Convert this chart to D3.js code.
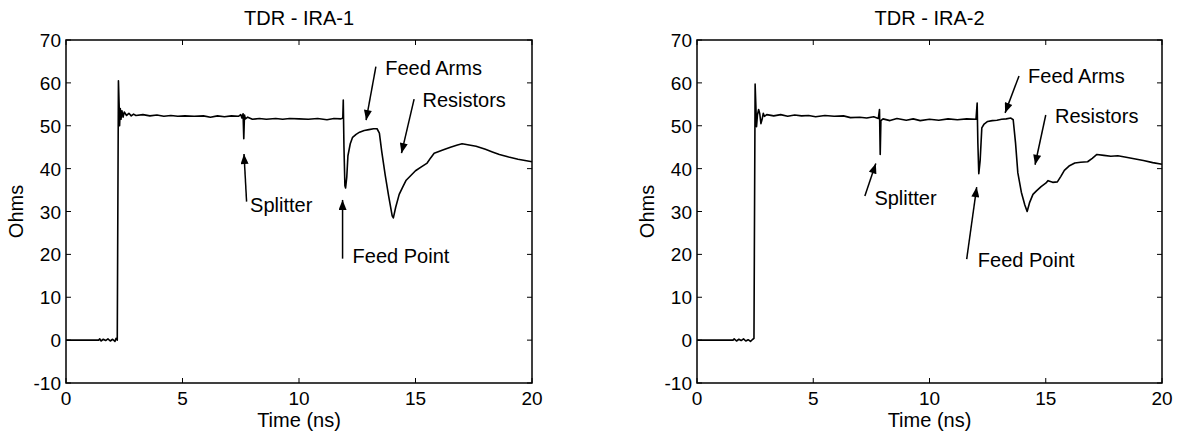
<!DOCTYPE html>
<html>
<head>
<meta charset="utf-8">
<script src="https://cdn.jsdelivr.net/npm/d3@7"></script>
<style>
  body { margin: 0; background: #fff; }
  svg text { font-family: "Liberation Sans", Arial, sans-serif; font-size: 20px; fill: #000; }
  svg text.tick { font-size: 19px; }
</style>
</head>
<body>
<div id="chart"></div>
<script>
// TDR traces: time (ns), impedance (ohms)
var ira1Time = [0, 1.4, 1.45, 1.5, 1.6, 1.7, 1.8, 1.9, 2.0, 2.1, 2.15, 2.2, 2.25, 2.28, 2.3, 2.33, 2.36, 2.4, 2.45, 2.5,
  2.6, 2.7, 2.8, 2.9, 3.0, 3.3, 3.6, 3.9, 4.2, 4.5, 4.8, 5.1, 5.5, 5.9, 6.2, 6.5, 6.8, 7.1, 7.4, 7.5,
  7.55, 7.6, 7.63, 7.66, 7.7, 7.8, 8.0, 8.3, 8.6, 9.0, 9.3, 9.6, 10.0, 10.4, 10.8, 11.2, 11.5, 11.8, 11.88, 11.9,
  11.93, 11.97, 12.0, 12.05, 12.1, 12.2, 12.3, 12.45, 12.6, 12.8, 13.0, 13.2, 13.35, 13.45, 13.55, 13.7, 13.85, 14.0, 14.05, 14.15,
  14.3, 14.45, 14.6, 14.8, 15.0, 15.25, 15.5, 15.65, 15.8, 16.0, 16.2, 16.5, 16.8, 17.0, 17.3, 17.6, 18.0, 18.3, 18.6, 19.0,
  19.4, 19.7, 20.0];
var ira1Ohms = [0, 0, 0.3, -0.2, 0.2, -0.1, 0.3, -0.2, 0.2, -0.3, 0.4, 0, 60.5, 55, 50, 54, 51.5, 53.5, 52, 53.2,
  52.4, 52.9, 52.3, 52.7, 52.4, 52.6, 52.3, 52.5, 52.2, 52.4, 52.2, 52.3, 52.2, 52.3, 52.0, 52.3, 52.1, 52.3, 52.2, 52.6,
  51.8, 52.8, 47, 52.5, 51.6, 52.0, 51.5, 51.7, 51.5, 51.7, 51.5, 51.7, 51.6, 51.5, 51.7, 51.4, 51.7, 51.6, 51.8, 56,
  45, 36, 35.5, 38, 43, 45.8, 47.3, 48.0, 48.5, 48.9, 49.1, 49.3, 49.3, 48.3, 44, 38.5, 33.5, 29, 28.5, 31,
  34, 35.7, 37.3, 38.4, 39.5, 40.4, 41.3, 42.5, 43.6, 44.0, 44.4, 45.0, 45.5, 45.8, 45.5, 45.2, 44.5, 43.9, 43.3, 42.7,
  42.2, 41.9, 41.6];

var ira2Time = [0, 1.55, 1.6, 1.7, 1.8, 1.9, 2.0, 2.1, 2.2, 2.3, 2.4, 2.45, 2.5, 2.53, 2.56, 2.6, 2.65, 2.7, 2.75, 2.8,
  2.85, 2.9, 3.0, 3.3, 3.6, 3.9, 4.2, 4.5, 4.8, 5.1, 5.5, 5.9, 6.3, 6.6, 7.0, 7.3, 7.6, 7.8, 7.85, 7.88,
  7.91, 8.0, 8.3, 8.6, 9.0, 9.3, 9.6, 10.0, 10.4, 10.8, 11.2, 11.6, 12.0, 12.05, 12.08, 12.12, 12.18, 12.25, 12.35, 12.5,
  12.7, 12.9, 13.1, 13.3, 13.5, 13.6, 13.7, 13.8, 13.95, 14.1, 14.2, 14.3, 14.45, 14.6, 14.8, 15.0, 15.1, 15.3, 15.5, 15.65,
  15.8, 16.0, 16.25, 16.5, 16.8, 17.0, 17.2, 17.5, 17.8, 18.1, 18.4, 18.8, 19.2, 19.6, 20.0];
var ira2Ohms = [0, 0, 0.3, -0.2, 0.2, -0.1, 0.3, -0.2, 0.1, -0.3, 0.2, 0.4, 59.7, 55, 49.8, 52.5, 53.8, 52.8, 50.5, 51.5,
  52.9, 52.2, 52.6, 52.3, 52.6, 52.2, 52.5, 52.3, 52.4, 52.1, 52.4, 52.2, 52.3, 51.9, 52.0, 51.8, 52.1, 51.7, 53.8, 43.3,
  51.2, 51.6, 51.2, 51.7, 51.3, 51.6, 51.2, 51.5, 51.3, 51.6, 51.4, 51.6, 51.5, 55.3, 46, 38.8, 42, 49.5, 50.4, 51,
  51.2, 51.3, 51.5, 51.6, 51.8, 51.4, 46, 39, 34.5, 31.5, 30, 32, 34, 34.8, 35.8, 36.6, 37.2, 36.8, 36.9, 38.2,
  39.6, 40.6, 41.3, 41.5, 41.6, 42.4, 43.3, 43.1, 42.9, 43.0, 42.7, 42.3, 41.9, 41.4, 41.0];

var titles = ['TDR - IRA-1', 'TDR - IRA-2'];
var xTicks = [0, 5, 10, 15, 20];
var yTicks = [-10, 0, 10, 20, 30, 40, 50, 60, 70];

// annotations: label, text anchor (t, ohms), arrow tail, arrow tip
var labels = ['Splitter', 'Feed Point', 'Feed Arms', 'Resistors'];
var ira1Text = [[7.9, 29.9], [12.3, 18], [13.7, 61.8], [15.3, 54.4]];
var ira1ArrowFrom = [[7.75, 32.3], [11.87, 19], [13.3, 63.8], [14.94, 56.2]];
var ira1ArrowTo = [[7.64, 43.4], [11.87, 32.7], [12.88, 51.3], [14.4, 43.6]];
var ira2Text = [[7.63, 31.5], [12.08, 17.1], [14.24, 60], [15.4, 50.7]];
var ira2ArrowFrom = [[7.22, 33.6], [11.6, 18.9], [13.85, 61.6], [15.0, 52.5]];
var ira2ArrowTo = [[7.69, 41.2], [12.03, 35.7], [13.25, 53], [14.54, 40.9]];

var svg = d3.select('#chart').append('svg')
  .attr('width', 1179)
  .attr('height', 436);

svg.append('defs').append('marker')
  .attr('id', 'head')
  .attr('viewBox', '0 0 10 8')
  .attr('refX', 10)
  .attr('refY', 4)
  .attr('markerUnits', 'userSpaceOnUse')
  .attr('markerWidth', 11)
  .attr('markerHeight', 8)
  .attr('orient', 'auto')
  .append('path')
  .attr('d', 'M0,0L10,4L0,8Z')
  .attr('fill', '#000');

function drawPanel(left, right, title, times, ohms, txt, from, to) {
  var top = 40, bottom = 383;
  var x = d3.scaleLinear().domain([0, 20]).range([left, right]);
  var y = d3.scaleLinear().domain([-10, 70]).range([bottom, top]);
  var g = svg.append('g');

  var tickLen = 5;
  g.selectAll('.xt').data(xTicks).enter().append('path')
    .attr('d', function (d) {
      return 'M' + x(d) + ',' + bottom + 'v' + (-tickLen) + 'M' + x(d) + ',' + top + 'v' + tickLen;
    })
    .attr('stroke', '#000');
  g.selectAll('.yt').data(yTicks).enter().append('path')
    .attr('d', function (d) {
      return 'M' + left + ',' + y(d) + 'h' + tickLen + 'M' + right + ',' + y(d) + 'h' + (-tickLen);
    })
    .attr('stroke', '#000');

  g.selectAll('.xl').data(xTicks).enter().append('text')
    .attr('class', 'tick')
    .attr('x', function (d) { return x(d); })
    .attr('y', bottom + 22)
    .attr('text-anchor', 'middle')
    .text(function (d) { return d; });
  g.selectAll('.yl').data(yTicks).enter().append('text')
    .attr('class', 'tick')
    .attr('x', left - 5)
    .attr('y', function (d) { return y(d) + 7; })
    .attr('text-anchor', 'end')
    .text(function (d) { return d; });

  var line = d3.line()
    .x(function (d, i) { return x(times[i]); })
    .y(function (d) { return y(d); });
  g.append('path')
    .attr('d', line(ohms))
    .attr('fill', 'none')
    .attr('stroke', '#000')
    .attr('stroke-width', 1.6)
    .attr('stroke-linejoin', 'round');

  g.append('rect')
    .attr('x', left).attr('y', top)
    .attr('width', right - left).attr('height', bottom - top)
    .attr('fill', 'none')
    .attr('stroke', '#000')
    .attr('stroke-width', 1.5);

  labels.forEach(function (lab, i) {
    g.append('line')
      .attr('x1', x(from[i][0])).attr('y1', y(from[i][1]))
      .attr('x2', x(to[i][0])).attr('y2', y(to[i][1]))
      .attr('stroke', '#000')
      .attr('stroke-width', 1.5)
      .attr('marker-end', 'url(#head)');
    g.append('text')
      .attr('x', x(txt[i][0]))
      .attr('y', y(txt[i][1]))
      .text(lab);
  });

  g.append('text')
    .attr('x', (left + right) / 2)
    .attr('y', 25)
    .attr('text-anchor', 'middle')
    .text(title);
  g.append('text')
    .attr('x', (left + right) / 2)
    .attr('y', 427)
    .attr('text-anchor', 'middle')
    .text('Time (ns)');
  g.append('text')
    .attr('transform', 'translate(' + (left - 43) + ',' + ((top + bottom) / 2) + ') rotate(-90)')
    .attr('text-anchor', 'middle')
    .text('Ohms');
}

drawPanel(66, 532, titles[0], ira1Time, ira1Ohms, ira1Text, ira1ArrowFrom, ira1ArrowTo);
drawPanel(697, 1162, titles[1], ira2Time, ira2Ohms, ira2Text, ira2ArrowFrom, ira2ArrowTo);
</script>
</body>
</html>
